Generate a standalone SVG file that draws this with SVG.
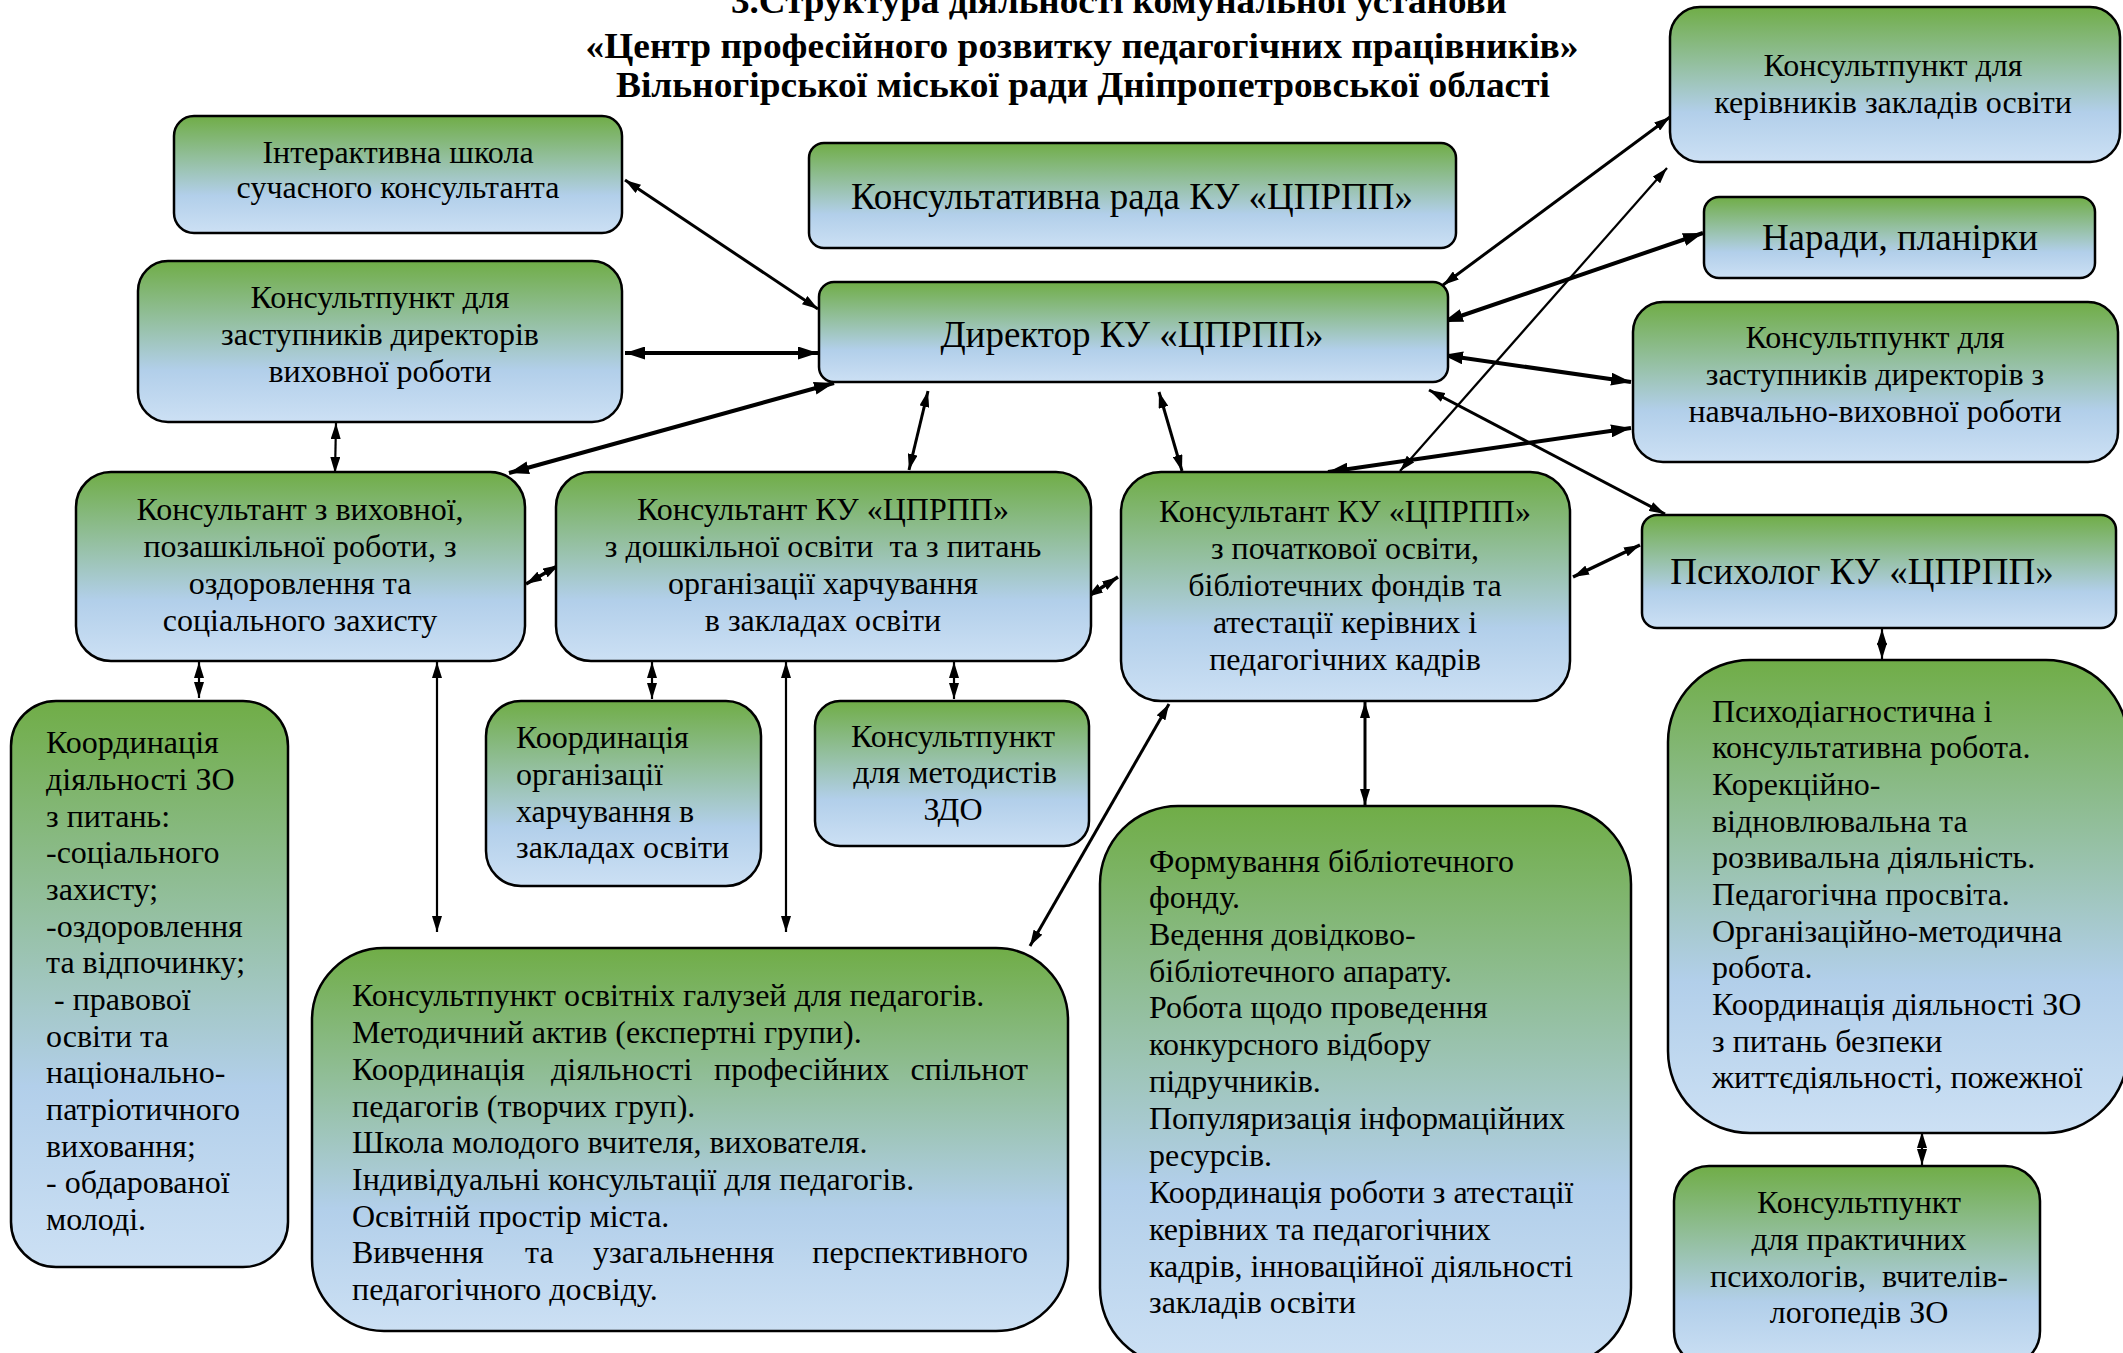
<svg xmlns="http://www.w3.org/2000/svg" width="2123" height="1353" viewBox="0 0 2123 1353">
<defs>
<linearGradient id="g" x1="0" y1="0" x2="0" y2="1">
<stop offset="0" stop-color="#70AD47"/>
<stop offset="0.68" stop-color="#B2CFEA"/>
<stop offset="1" stop-color="#CCE0F4"/>
</linearGradient>
<marker id="a" viewBox="0 0 16 10" refX="16" refY="5" markerWidth="16" markerHeight="10" markerUnits="userSpaceOnUse" orient="auto-start-reverse"><path d="M0,0 L16,5 L0,10 z" fill="#000"/></marker>
<marker id="b" viewBox="0 0 20 13" refX="20" refY="6.5" markerWidth="20" markerHeight="13" markerUnits="userSpaceOnUse" orient="auto-start-reverse"><path d="M0,0 L20,6.5 L0,13 z" fill="#000"/></marker>
</defs>
<style>
.n{fill:url(#g);stroke:#000;stroke-width:2.5}
text{font-family:"Liberation Serif","Times New Roman",serif;fill:#000}
.t{font-size:32px}
.c{text-anchor:middle}
.L{font-size:37px}
.h{font-size:35px;font-weight:bold;text-anchor:middle}
.k{fill:none;stroke:#000}
.k1{stroke-width:2.2;marker-start:url(#a);marker-end:url(#a)}
.k2{stroke-width:3;marker-start:url(#a);marker-end:url(#a)}
.k3{stroke-width:4;marker-start:url(#b);marker-end:url(#b)}
.k4{stroke-width:3.6;marker-start:url(#a);marker-end:url(#a)}
</style>

<g id="title">
<text class="h" x="1119" y="13" textLength="776" lengthAdjust="spacingAndGlyphs">3.Структура діяльності комунальної установи</text>
<text class="h" x="1082" y="58" textLength="993" lengthAdjust="spacingAndGlyphs">«Центр професійного розвитку педагогічних працівників»</text>
<text class="h" x="1083" y="97" textLength="934" lengthAdjust="spacingAndGlyphs">Вільногірської міської ради Дніпропетровської області</text>
</g>

<g id="connectors">
<line class="k k2" x1="625" y1="180" x2="818" y2="309"/>
<line class="k k3" x1="625" y1="353" x2="818" y2="353"/>
<line class="k k3" x1="509" y1="473" x2="834" y2="383"/>
<line class="k k1" x1="336" y1="423" x2="335" y2="473"/>
<line class="k k2" x1="928" y1="391" x2="909" y2="470"/>
<line class="k k2" x1="1159" y1="392" x2="1182" y2="471"/>
<line class="k k2" x1="1443" y1="285" x2="1670" y2="117"/>
<line class="k k3" x1="1443" y1="322" x2="1703" y2="233"/>
<line class="k k3" x1="1443" y1="355" x2="1631" y2="382"/>
<line class="k k1" x1="1400" y1="471" x2="1667" y2="168"/>
<line class="k k3" x1="1328" y1="472" x2="1631" y2="428"/>
<line class="k k2" x1="1429" y1="390" x2="1665" y2="514"/>
<line class="k k4" x1="1573" y1="577" x2="1640" y2="545"/>
<line class="k k4" x1="526" y1="584" x2="559" y2="565"/>
<line class="k k4" x1="1087" y1="597" x2="1118" y2="577"/>
<line class="k k1" x1="199" y1="662" x2="199" y2="698"/>
<line class="k k1" x1="437" y1="662" x2="437" y2="932"/>
<line class="k k1" x1="652" y1="662" x2="652" y2="699"/>
<line class="k k1" x1="786" y1="662" x2="786" y2="932"/>
<line class="k k1" x1="954" y1="662" x2="954" y2="699"/>
<line class="k k2" x1="1169" y1="704" x2="1030" y2="946"/>
<line class="k k2" x1="1365" y1="702" x2="1365" y2="805"/>
<line class="k k1" x1="1882" y1="629" x2="1882" y2="659"/>
<line class="k k1" x1="1922" y1="1132" x2="1922" y2="1165"/>
</g>

<g id="n-school">
<rect class="n" x="174" y="116" width="448" height="117" rx="20"/>
<text class="t c" x="398" y="163">Інтерактивна школа</text>
<text class="t c" x="398" y="198">сучасного консультанта</text>
</g>

<g id="n-rada">
<rect class="n" x="809" y="143" width="647" height="105" rx="15"/>
<text class="L c" x="1132" y="209">Консультативна рада КУ «ЦПРПП»</text>
</g>

<g id="n-zastvykh">
<rect class="n" x="138" y="261" width="484" height="161" rx="30"/>
<text class="t c" x="380" y="308">Консультпункт для</text>
<text class="t c" x="380" y="345">заступників директорів</text>
<text class="t c" x="380" y="382">виховної роботи</text>
</g>

<g id="n-director">
<rect class="n" x="819" y="282" width="629" height="100" rx="15"/>
<text class="L c" x="1132" y="347">Директор КУ «ЦПРПП»</text>
</g>

<g id="n-kerivnyky">
<rect class="n" x="1670" y="7" width="450" height="155" rx="30"/>
<text class="t c" x="1893" y="76">Консультпункт для</text>
<text class="t c" x="1893" y="113">керівників закладів освіти</text>
</g>

<g id="n-narady">
<rect class="n" x="1704" y="197" width="391" height="81" rx="15"/>
<text class="L c" x="1900" y="250">Наради, планірки</text>
</g>

<g id="n-zastnavch">
<rect class="n" x="1633" y="302" width="485" height="160" rx="30"/>
<text class="t c" x="1875" y="348">Консультпункт для</text>
<text class="t c" x="1875" y="385">заступників директорів з</text>
<text class="t c" x="1875" y="422">навчально-виховної роботи</text>
</g>

<g id="n-kons-vykh">
<rect class="n" x="76" y="472" width="449" height="189" rx="35"/>
<text class="t c" x="300" y="520">Консультант з виховної,</text>
<text class="t c" x="300" y="557">позашкільної роботи, з</text>
<text class="t c" x="300" y="594">оздоровлення та</text>
<text class="t c" x="300" y="631">соціального захисту</text>
</g>

<g id="n-kons-dosh">
<rect class="n" x="556" y="472" width="535" height="189" rx="35"/>
<text class="t c" x="823" y="520">Консультант КУ «ЦПРПП»</text>
<text class="t c" x="823" y="557" xml:space="preserve">з дошкільної освіти  та з питань</text>
<text class="t c" x="823" y="594">організації харчування</text>
<text class="t c" x="823" y="631">в закладах освіти</text>
</g>

<g id="n-kons-poch">
<rect class="n" x="1121" y="472" width="449" height="229" rx="40"/>
<text class="t c" x="1345" y="522">Консультант КУ «ЦПРПП»</text>
<text class="t c" x="1345" y="559">з початкової освіти,</text>
<text class="t c" x="1345" y="596">бібліотечних фондів та</text>
<text class="t c" x="1345" y="633">атестації керівних і</text>
<text class="t c" x="1345" y="670">педагогічних кадрів</text>
</g>

<g id="n-psycholog">
<rect class="n" x="1642" y="515" width="474" height="113" rx="15"/>
<text class="L c" x="1862" y="584">Психолог КУ «ЦПРПП»</text>
</g>

<g id="n-koord-zo">
<rect class="n" x="11" y="701" width="277" height="566" rx="45"/>
<text class="t" x="46" y="753">Координація</text>
<text class="t" x="46" y="790">діяльності ЗО</text>
<text class="t" x="46" y="827">з питань:</text>
<text class="t" x="46" y="863">-соціального</text>
<text class="t" x="46" y="900">захисту;</text>
<text class="t" x="46" y="937">-оздоровлення</text>
<text class="t" x="46" y="973">та відпочинку;</text>
<text class="t" x="46" y="1010" xml:space="preserve"> - правової</text>
<text class="t" x="46" y="1047">освіти та</text>
<text class="t" x="46" y="1083">національно-</text>
<text class="t" x="46" y="1120">патріотичного</text>
<text class="t" x="46" y="1157">виховання;</text>
<text class="t" x="46" y="1193">- обдарованої</text>
<text class="t" x="46" y="1230">молоді.</text>
</g>

<g id="n-koord-harch">
<rect class="n" x="486" y="701" width="275" height="185" rx="35"/>
<text class="t" x="516" y="748">Координація</text>
<text class="t" x="516" y="785">організації</text>
<text class="t" x="516" y="822">харчування в</text>
<text class="t" x="516" y="858">закладах освіти</text>
</g>

<g id="n-metodysty">
<rect class="n" x="815" y="701" width="274" height="145" rx="25"/>
<text class="t c" x="953" y="747">Консультпункт</text>
<text class="t c" x="955" y="783">для методистів</text>
<text class="t c" x="953" y="820">ЗДО</text>
</g>

<g id="n-galuzi">
<rect class="n" x="312" y="948" width="756" height="383" rx="72"/>
<text class="t" x="352" y="1006">Консультпункт освітніх галузей для педагогів.</text>
<text class="t" x="352" y="1043">Методичний актив (експертні групи).</text>
<text class="t" y="1080"><tspan x="352">Координація</tspan><tspan x="551">діяльності</tspan><tspan x="714">професійних</tspan><tspan x="1028" text-anchor="end">спільнот</tspan></text>
<text class="t" x="352" y="1117">педагогів (творчих груп).</text>
<text class="t" x="352" y="1153">Школа молодого вчителя, вихователя.</text>
<text class="t" x="352" y="1190">Індивідуальні консультації для педагогів.</text>
<text class="t" x="352" y="1227">Освітній простір міста.</text>
<text class="t" y="1263"><tspan x="352">Вивчення</tspan><tspan x="525">та</tspan><tspan x="593">узагальнення</tspan><tspan x="1028" text-anchor="end">перспективного</tspan></text>
<text class="t" x="352" y="1300">педагогічного досвіду.</text>
</g>

<g id="n-biblio">
<rect class="n" x="1100" y="806" width="531" height="560" rx="78"/>
<text class="t" x="1149" y="872">Формування бібліотечного</text>
<text class="t" x="1149" y="908">фонду.</text>
<text class="t" x="1149" y="945">Ведення довідково-</text>
<text class="t" x="1149" y="982">бібліотечного апарату.</text>
<text class="t" x="1149" y="1018">Робота щодо проведення</text>
<text class="t" x="1149" y="1055">конкурсного відбору</text>
<text class="t" x="1149" y="1092">підручників.</text>
<text class="t" x="1149" y="1129">Популяризація інформаційних</text>
<text class="t" x="1149" y="1166">ресурсів.</text>
<text class="t" x="1149" y="1203">Координація роботи з атестації</text>
<text class="t" x="1149" y="1240">керівних та педагогічних</text>
<text class="t" x="1149" y="1277">кадрів, інноваційної діяльності</text>
<text class="t" x="1149" y="1313">закладів освіти</text>
</g>

<g id="n-psychodiag">
<rect class="n" x="1668" y="660" width="460" height="473" rx="82"/>
<text class="t" x="1712" y="722">Психодіагностична і</text>
<text class="t" x="1712" y="758">консультативна робота.</text>
<text class="t" x="1712" y="795">Корекційно-</text>
<text class="t" x="1712" y="832">відновлювальна та</text>
<text class="t" x="1712" y="868">розвивальна діяльність.</text>
<text class="t" x="1712" y="905">Педагогічна просвіта.</text>
<text class="t" x="1712" y="942">Організаційно-методична</text>
<text class="t" x="1712" y="978">робота.</text>
<text class="t" x="1712" y="1015">Координація діяльності ЗО</text>
<text class="t" x="1712" y="1052">з питань безпеки</text>
<text class="t" x="1712" y="1088">життєдіяльності, пожежної</text>
</g>

<g id="n-psycholohy">
<rect class="n" x="1674" y="1166" width="366" height="200" rx="35"/>
<text class="t c" x="1859" y="1213">Консультпункт</text>
<text class="t c" x="1859" y="1250">для практичних</text>
<text class="t c" x="1859" y="1287" xml:space="preserve">психологів,  вчителів-</text>
<text class="t c" x="1859" y="1323">логопедів ЗО</text>
</g>
</svg>
